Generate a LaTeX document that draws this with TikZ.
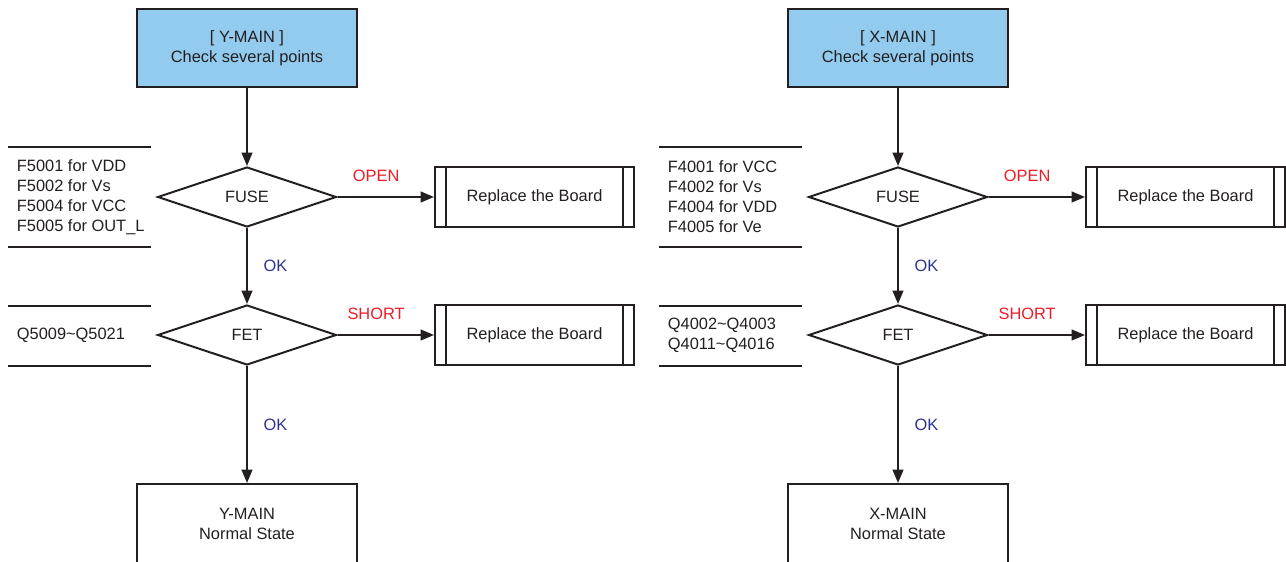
\documentclass[tikz,border=0pt]{standalone}
\usepackage{fontspec}
\setmainfont{Liberation Sans}
\usetikzlibrary{arrows.meta, shapes.geometric}
\definecolor{inkDark}{RGB}{35,31,32}
\definecolor{headBlue}{RGB}{146,203,238}
\definecolor{okBlue}{RGB}{46,49,146}
\definecolor{failRed}{RGB}{237,28,36}
\tikzset{
  headbox/.style={draw, fill=headBlue, align=center,
                  minimum width=6.6cm, minimum height=2.34cm, inner sep=2pt},
  endbox/.style={draw, align=center, minimum width=6.6cm, minimum height=2.4cm},
  decision/.style={draw, diamond, inner sep=0pt,
                   minimum width=5.37cm, minimum height=1.8cm},
  subproc/.style={draw, minimum width=5.97cm, minimum height=1.8cm},
  pointlist/.style={anchor=west, align=left},
  flow/.style={-{Triangle[length=4mm, width=3.2mm]}},
  oklabel/.style={text=okBlue, right=10pt},
  faillabel/.style={text=failRed, above=9pt},
}

\begin{document}
\begin{tikzpicture}[x=0.03cm, y=-0.03cm, line width=1.7pt, color=inkDark,
                    font=\fontsize{14}{17}\selectfont]
  \useasboundingbox (0,0) rectangle (1286,562);
  % ---- Y-MAIN column
  \node[headbox] (yMain) at (247,48) {[ Y-MAIN ]\\Check several points};
  \node[decision] (yFuse) at (247,197) {FUSE};
  \node[subproc] (yFuseBad) at (534.5,197) {Replace the Board};
  \node[decision] (yFet) at (247,335) {FET};
  \node[subproc] (yFetBad) at (534.5,335) {Replace the Board};
  \node[endbox] (yDone) at (247,524) {Y-MAIN\\Normal State};
  % points to check
  \draw (8,147) -- (151,147);
  \draw (8,247) -- (151,247);
  \node[pointlist] (yFuseList) at (12,197)
    {F5001 for VDD\\F5002 for Vs\\F5004 for VCC\\F5005 for OUT\_L};
  \draw (8,306) -- (151,306);
  \draw (8,366) -- (151,366);
  \node[pointlist] (yFetList) at (12,335) {Q5009\textasciitilde Q5021};
  % flow
  \draw[flow] (yMain) -- (yFuse);
  \draw[flow] (yFuse) -- node[faillabel, pos=0.4] {OPEN} (yFuseBad);
  \draw[flow] (yFuse) -- node[oklabel] {OK} (yFet);
  \draw[flow] (yFet) -- node[faillabel, pos=0.4] {SHORT} (yFetBad);
  \draw[flow] (yFet) -- node[oklabel] {OK} (yDone);

  % ---- X-MAIN column
  \node[headbox] (xMain) at (898,48) {[ X-MAIN ]\\Check several points};
  \node[decision] (xFuse) at (898,197) {FUSE};
  \node[subproc] (xFuseBad) at (1185.5,197) {Replace the Board};
  \node[decision] (xFet) at (898,335) {FET};
  \node[subproc] (xFetBad) at (1185.5,335) {Replace the Board};
  \node[endbox] (xDone) at (898,524) {X-MAIN\\Normal State};
  % points to check
  \draw (659,147) -- (802,147);
  \draw (659,247) -- (802,247);
  \node[pointlist] (xFuseList) at (663,197)
    {F4001 for VCC\\F4002 for Vs\\F4004 for VDD\\F4005 for Ve};
  \draw (659,306) -- (802,306);
  \draw (659,366) -- (802,366);
  \node[pointlist] (xFetList) at (663,335)
    {Q4002\textasciitilde Q4003\\Q4011\textasciitilde Q4016};
  % flow
  \draw[flow] (xMain) -- (xFuse);
  \draw[flow] (xFuse) -- node[faillabel, pos=0.4] {OPEN} (xFuseBad);
  \draw[flow] (xFuse) -- node[oklabel] {OK} (xFet);
  \draw[flow] (xFet) -- node[faillabel, pos=0.4] {SHORT} (xFetBad);
  \draw[flow] (xFet) -- node[oklabel] {OK} (xDone);

  % double side bars of the replace boxes
  \foreach \n in {yFuseBad, yFetBad, xFuseBad, xFetBad} {
    \draw ([xshift=0.36cm]\n.north west) -- ([xshift=0.36cm]\n.south west);
    \draw ([xshift=-0.36cm]\n.north east) -- ([xshift=-0.36cm]\n.south east);
  }
\end{tikzpicture}
\end{document}
